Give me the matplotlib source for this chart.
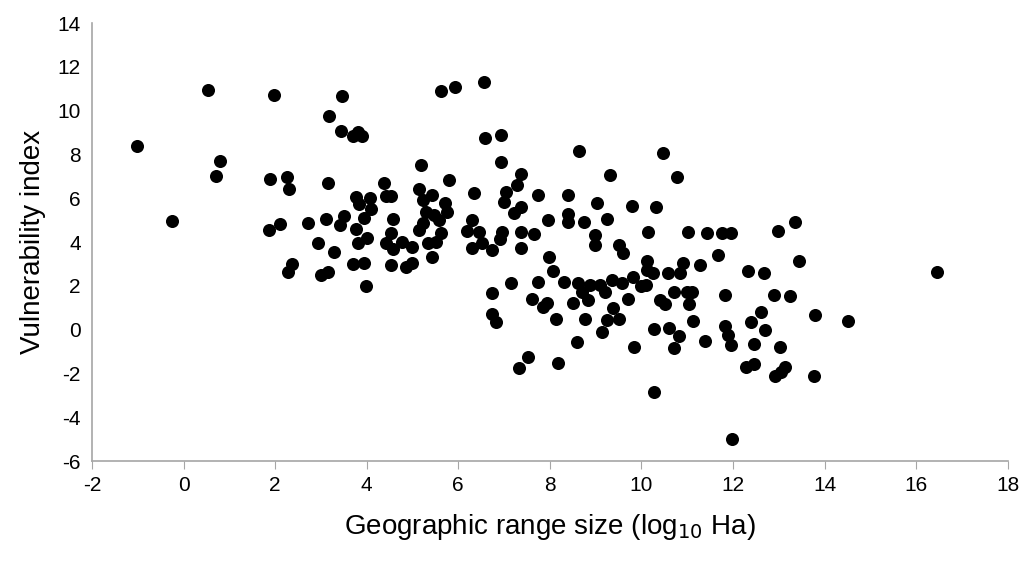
import matplotlib
matplotlib.use("Agg")
import matplotlib.pyplot as plt

plt.rcParams['font.family'] = ['Liberation Sans', 'DejaVu Sans']
plt.rcParams['axes.unicode_minus'] = False

# range size (log10 Ha) and vulnerability index
range_size = [
    -1.01, -0.25, 0.54, 0.80, 0.70,
    1.97, 3.46, 3.18, 3.43, 3.70, 3.80, 3.90,
    1.88, 2.25, 2.30, 3.15, 3.77, 4.08, 3.83, 4.10, 3.95, 3.50, 3.42, 3.12,
    2.72, 2.10, 1.87, 3.77, 4.00, 3.80, 2.93, 3.28, 2.36, 3.70, 3.95,
    2.28, 3.01, 3.15, 3.99,
    5.63, 5.92, 6.56, 6.58, 6.93, 6.94, 5.18, 5.79, 4.38, 6.35, 4.42, 4.53,
    5.14, 5.43, 5.22, 5.72, 5.29, 5.46, 5.76, 4.58, 5.22, 5.58, 5.14, 6.30,
    6.20, 6.45, 4.53, 5.62, 5.51, 5.33, 4.42, 4.78, 4.99, 4.57, 6.52, 6.30,
    6.74, 5.43, 4.53, 4.86, 4.98, 6.73, 6.73, 6.83,
    8.64, 7.38, 7.28, 9.31, 7.04, 6.99, 7.74, 8.39, 7.37, 7.21, 9.02, 7.96,
    8.39, 8.39, 8.75, 9.24, 6.96, 6.92, 7.36, 7.65, 8.99, 8.99, 7.38, 7.99,
    9.50,
    8.08, 7.15, 7.74, 8.32, 8.61, 8.88, 9.09, 9.35, 8.70, 9.20, 7.62, 7.93,
    7.86, 8.51, 8.84, 9.38, 8.14, 8.77, 9.24, 9.15, 8.60, 7.52, 7.33, 8.17,
    10.47, 10.77, 9.80, 10.31, 10.14, 11.01, 11.43, 11.76, 11.96, 9.60,
    11.67, 10.13, 10.91, 11.27, 10.13, 10.25, 10.85, 10.58, 9.57, 9.82,
    10.00, 10.09, 10.72, 11.00, 11.10, 11.83, 9.70, 10.40, 10.52, 11.05,
    9.51, 11.12, 11.83, 11.90, 11.96, 10.28, 10.60, 10.83, 10.72, 11.38,
    9.84, 10.28, 11.97,
    12.99, 13.35, 13.44, 12.32, 12.67, 12.90, 13.24, 12.61, 12.39, 12.70,
    13.79, 14.51, 12.45, 13.03, 12.28, 12.46, 13.14, 13.04, 12.92, 13.77,
    16.45,
]
vulnerability = [
    8.40, 4.97, 10.93, 7.70, 7.00,
    10.71, 10.67, 9.75, 9.05, 8.84, 9.04, 8.84,
    6.86, 6.98, 6.41, 6.68, 6.04, 6.00, 5.73, 5.50, 5.08, 5.20, 4.79, 5.05,
    4.87, 4.82, 4.55, 4.58, 4.18, 3.94, 3.94, 3.56, 3.00, 3.00, 3.05,
    2.64, 2.49, 2.64, 1.99,
    10.91, 11.06, 11.32, 8.73, 8.89, 7.67, 7.50, 6.83, 6.68, 6.22, 6.10, 6.10,
    6.41, 6.15, 5.92, 5.80, 5.38, 5.23, 5.38, 5.05, 4.85, 5.00, 4.55, 5.00,
    4.52, 4.47, 4.43, 4.40, 4.01, 3.97, 3.94, 4.01, 3.79, 3.67, 3.97, 3.71,
    3.63, 3.33, 2.95, 2.87, 3.05, 1.69, 0.71, 0.36,
    8.16, 7.09, 6.59, 7.05, 6.30, 5.84, 6.16, 6.16, 5.61, 5.31, 5.77, 4.99,
    5.26, 4.90, 4.90, 5.04, 4.47, 4.12, 4.47, 4.37, 4.32, 3.86, 3.71, 3.30,
    3.88,
    2.69, 2.14, 2.19, 2.19, 2.14, 2.04, 2.04, 2.26, 1.73, 1.73, 1.38, 1.23,
    1.05, 1.20, 1.35, 0.97, 0.50, 0.48, 0.44, -0.11, -0.57, -1.24, -1.74, -1.54,
    8.08, 6.98, 5.66, 5.60, 4.47, 4.46, 4.40, 4.40, 4.40, 3.48,
    3.41, 3.15, 3.05, 2.95, 2.72, 2.60, 2.57, 2.57, 2.14, 2.42,
    1.99, 2.04, 1.70, 1.73, 1.73, 1.58, 1.38, 1.35, 1.17, 1.16,
    0.47, 0.39, 0.18, -0.25, -0.70, 0.01, 0.06, -0.29, -0.85, -0.51,
    -0.78, -2.83, -5.01,
    4.52, 4.90, 3.12, 2.69, 2.57, 1.58, 1.53, 0.79, 0.36, -0.02,
    0.67, 0.39, -0.63, -0.81, -1.72, -1.58, -1.69, -1.92, -2.12, -2.12,
    2.65,
]

fig = plt.figure(figsize=(10.22, 5.61), dpi=100)
ax = fig.add_axes([0.090, 0.178, 0.896, 0.781])

ax.plot(range_size, vulnerability, 'o', color='black', markersize=9.4,
        markeredgewidth=0)

ax.set_xlim(-2, 18)
ax.set_ylim(-6, 14)
ax.set_xticks(range(-2, 19, 2))
ax.set_yticks(range(-6, 15, 2))

for s in ['top', 'right']:
    ax.spines[s].set_visible(False)
for s in ['left', 'bottom']:
    ax.spines[s].set_color('#a6a6a6')
    ax.spines[s].set_linewidth(1.2)
ax.tick_params(axis='x', direction='out', length=6, color='#a6a6a6',
               labelsize=15, pad=5)
ax.tick_params(axis='y', length=0, labelsize=15, pad=8)

ax.set_ylabel('Vulnerability index', fontsize=20, labelpad=8)
ax.set_xlabel('Geographic range size (log$_{10}$ Ha)', fontsize=20, labelpad=12)

fig.savefig('out.png', dpi=100)
